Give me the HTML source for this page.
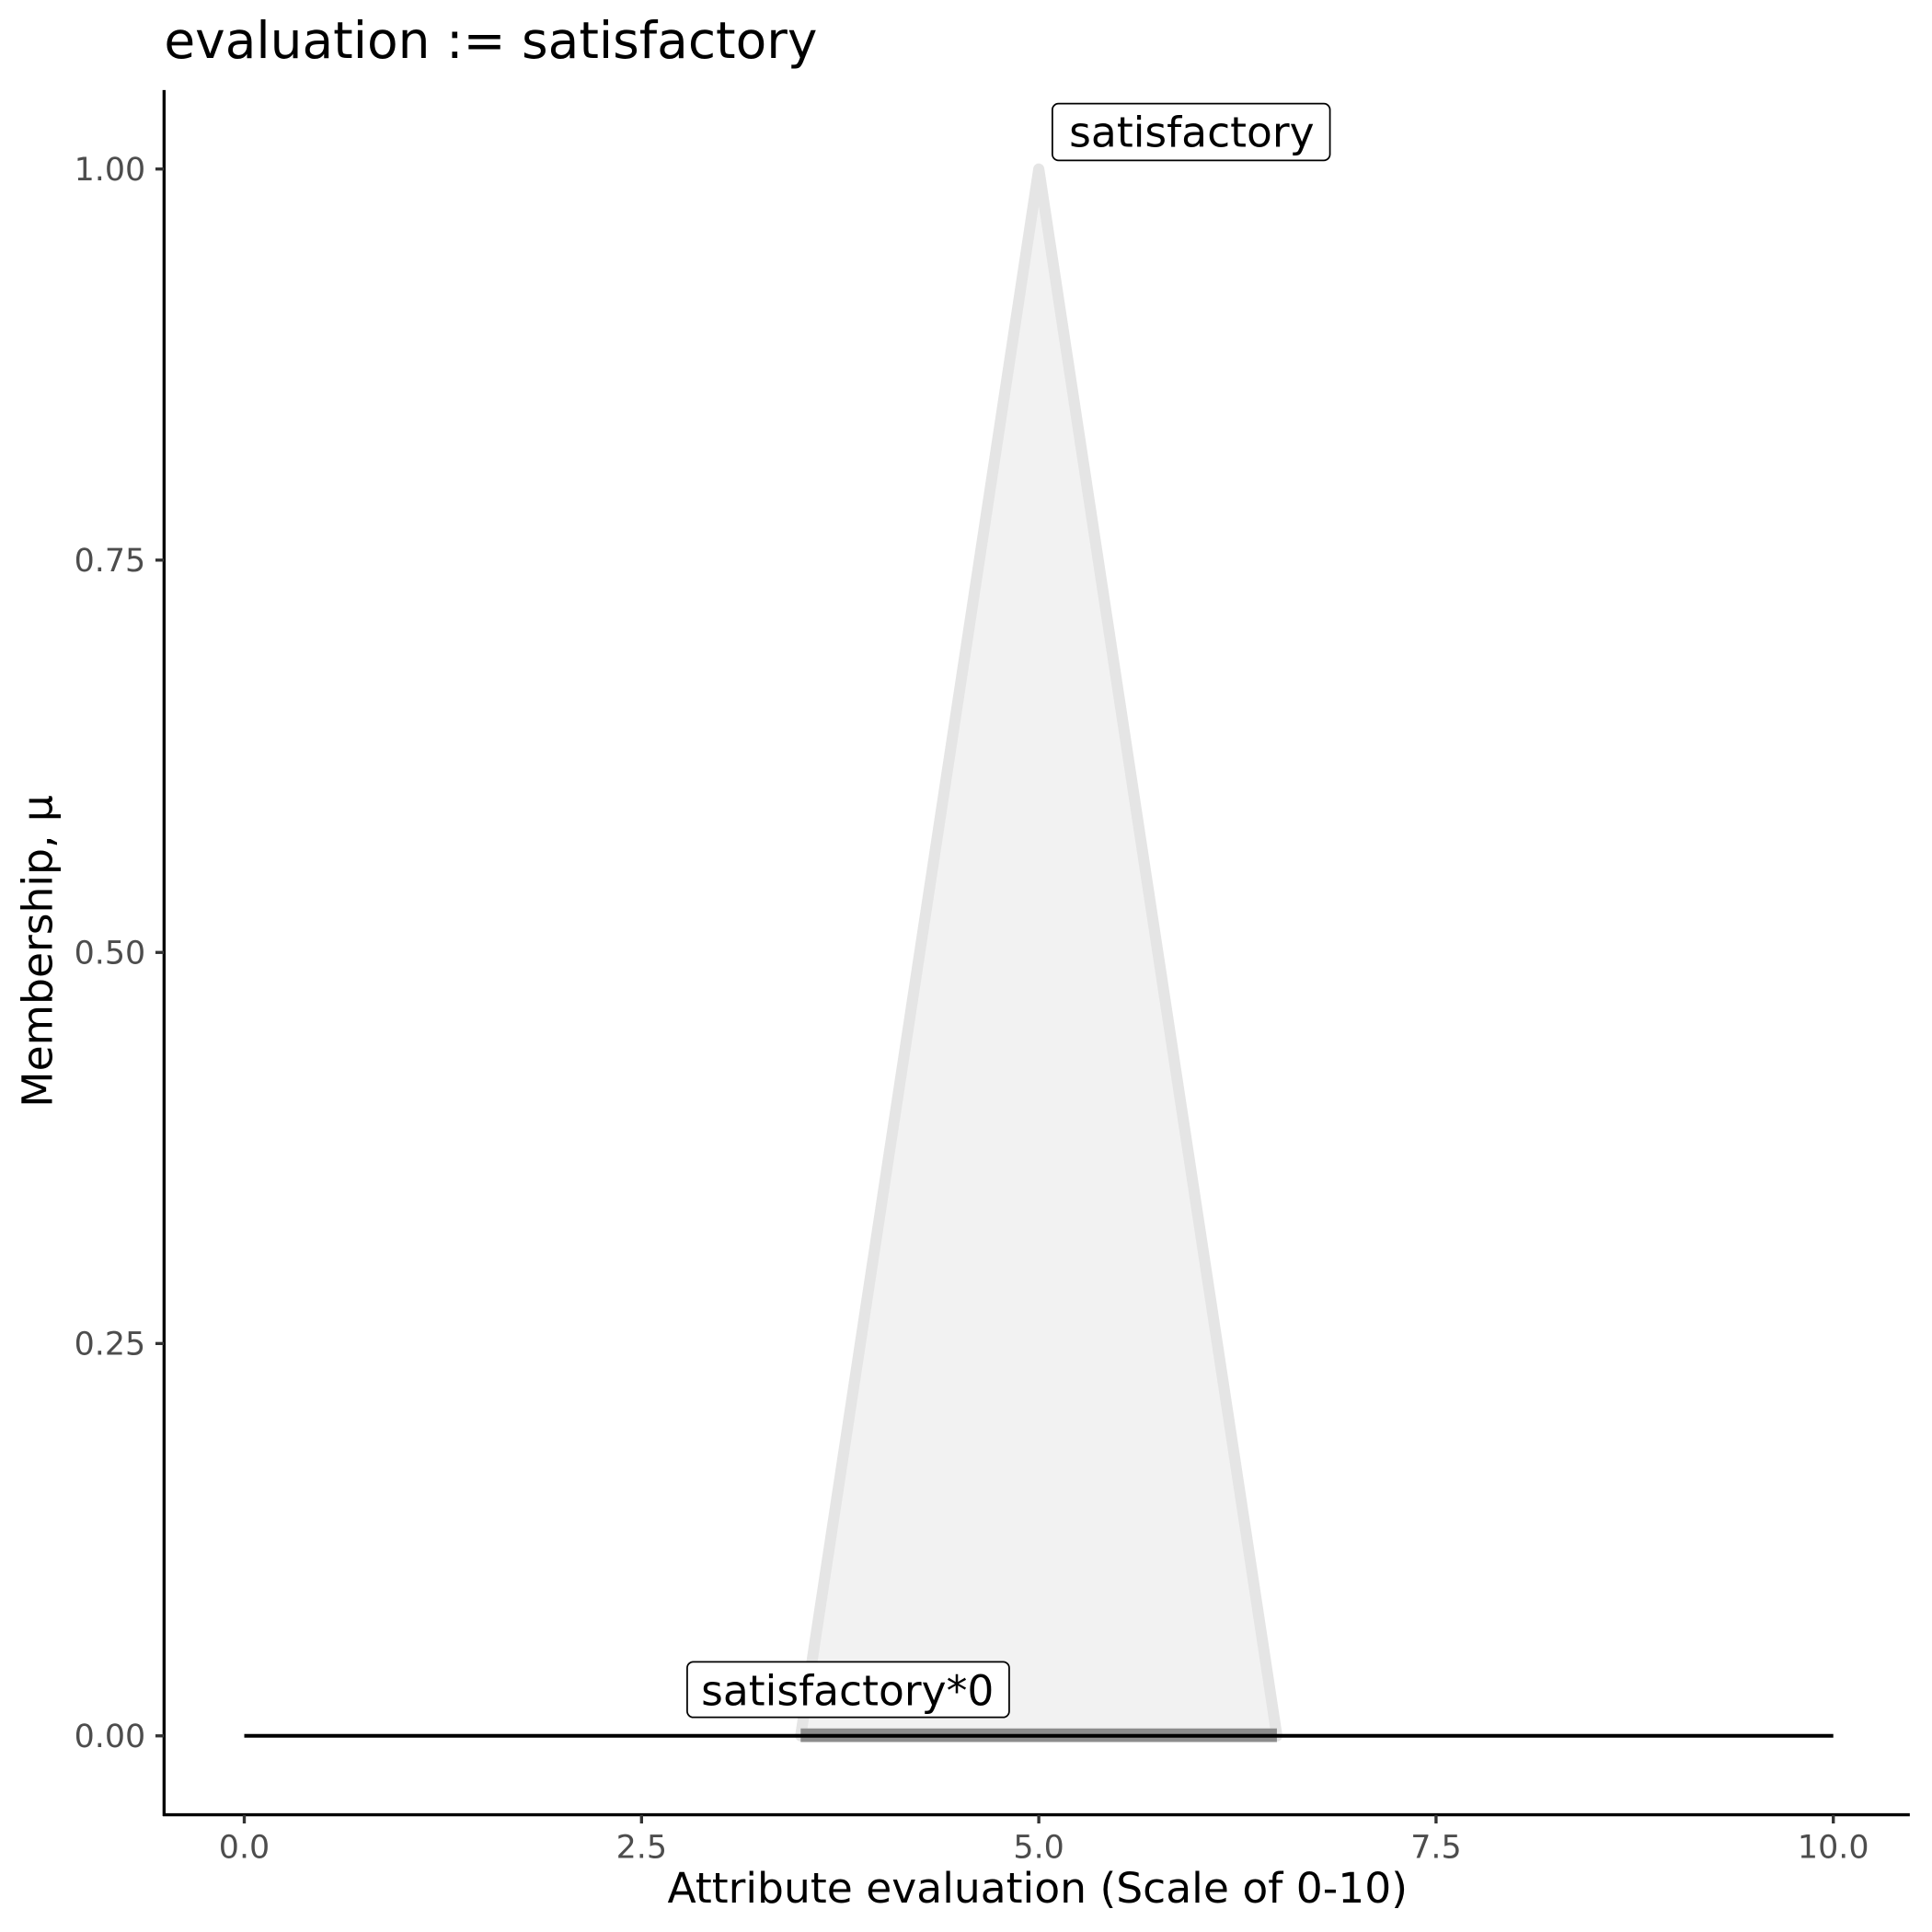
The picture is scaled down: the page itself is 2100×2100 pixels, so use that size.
<!DOCTYPE html>
<html><head><style>html,body{margin:0;padding:0;background:#fff}svg{display:block}</style></head>
<body>
<svg width="2100" height="2100" viewBox="0 0 1566 1566" xmlns="http://www.w3.org/2000/svg" font-family="'DejaVu Sans','Liberation Sans',sans-serif">
<rect width="1566" height="1566" fill="#fff"/>
<text x="133" y="47" font-size="41" fill="#000">evaluation := satisfactory</text>
<polygon points="649,1407 842,137 1035,1407" fill="#f2f2f2" stroke="#e5e5e5" stroke-width="9" stroke-linejoin="round"/>
<rect x="649" y="1401" width="386" height="11" fill="#8c8c8c"/>
<line x1="198" y1="1407" x2="1486" y2="1407" stroke="#000" stroke-width="3"/>
<line x1="133" y1="73" x2="133" y2="1472" stroke="#000" stroke-width="2.5"/>
<line x1="132" y1="1471" x2="1548" y2="1471" stroke="#000" stroke-width="2.5"/>
<g stroke="#333" stroke-width="2.5">
<line x1="126" y1="137" x2="133" y2="137"/><line x1="126" y1="454" x2="133" y2="454"/><line x1="126" y1="772" x2="133" y2="772"/><line x1="126" y1="1089" x2="133" y2="1089"/><line x1="126" y1="1407" x2="133" y2="1407"/>
<line x1="198" y1="1471" x2="198" y2="1478"/><line x1="520" y1="1471" x2="520" y2="1478"/><line x1="842" y1="1471" x2="842" y2="1478"/><line x1="1164" y1="1471" x2="1164" y2="1478"/><line x1="1486" y1="1471" x2="1486" y2="1478"/>
</g>
<g font-size="26" fill="#4d4d4d" text-anchor="end">
<text x="118" y="146">1.00</text><text x="118" y="463">0.75</text><text x="118" y="781">0.50</text><text x="118" y="1098">0.25</text><text x="118" y="1416">0.00</text>
</g>
<g font-size="26" fill="#4d4d4d" text-anchor="middle">
<text x="198" y="1506">0.0</text><text x="520" y="1506">2.5</text><text x="842" y="1506">5.0</text><text x="1164" y="1506">7.5</text><text x="1486" y="1506">10.0</text>
</g>
<text x="841" y="1542" font-size="34" text-anchor="middle" fill="#000">Attribute evaluation (Scale of 0-10)</text>
<text transform="translate(42,771) rotate(-90)" font-size="34" text-anchor="middle" fill="#000">Membership, μ</text>
<rect x="853" y="84" width="225" height="46" rx="5" fill="#fff" stroke="#000" stroke-width="1.3"/>
<text x="966" y="119" font-size="34" text-anchor="middle" fill="#000">satisfactory</text>
<rect x="557" y="1347" width="261" height="45" rx="5" fill="#fff" stroke="#000" stroke-width="1.3"/>
<text x="687" y="1382" font-size="34" text-anchor="middle" fill="#000">satisfactory*0</text>
</svg>
</body></html>
